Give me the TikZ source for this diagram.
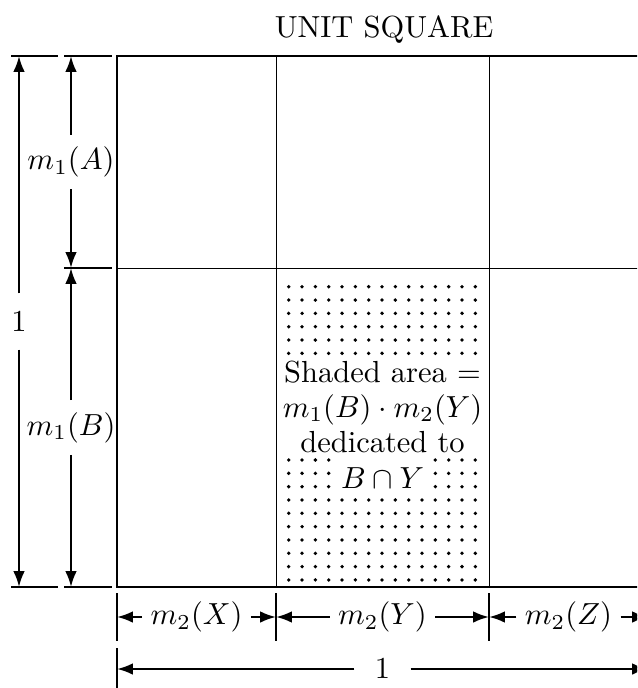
\documentclass[tikz,border=0pt]{standalone}
\usetikzlibrary{arrows.meta}
\begin{document}
\begin{tikzpicture}[x=0.328pt,y=-0.328pt,
  thickln/.style={line width=0.85pt},
  thinln/.style={line width=0.3pt},
  dimarrow/.style={line width=0.75pt,-{Latex[length=5.2pt,width=3.8pt]}},
  vlab/.style={inner sep=0pt,minimum height=17.5pt},
  hlab/.style={inner xsep=2.6pt,inner ysep=0pt},
  txt/.style={anchor=base,inner sep=0pt}]
\useasboundingbox (0,0) rectangle (637,688);
\clip (0,0) rectangle (637,688);

% unit square
\draw[thinln] (276,56) -- (276,587) (489,56) -- (489,587) (117,268) -- (648,268);
\draw[thickln] (648,56) -- (117,56) -- (117,587) -- (648,587);

% dotted shading
\foreach \i in {0,...,14}
  \foreach \j in {0,...,22}
    \fill (288.7+13.33*\i, 286.7+13.33*\j) circle (0.62pt);
\fill[white] (285,358) rectangle (479,455);
\fill[white] (335,455) rectangle (429,493);
\node[txt] (s1) at (382.5,382) {Shaded area $=$};
\node[txt] (s2) at (382.5,417) {$m_1(B)\cdot m_2(Y)$};
\node[txt] (s3) at (382.5,452.5) {dedicated to};
\node[txt] (s4) at (382.5,488) {$B\cap Y$};

% title
\node[txt] (title) at (384,38) {UNIT SQUARE};

% extension lines
\draw[thickln] (11,56) -- (58,56) (64,56) -- (112,56) (64,268) -- (112,268)
  (11,587) -- (58,587) (64,587) -- (112,587);
\draw[thickln] (117,593) -- (117,641) (276,593) -- (276,641) (489,593) -- (489,641)
  (117,648) -- (117,688);

% end points
\coordinate (oT) at (19,56);
\coordinate (oB) at (19,587);
\coordinate (aT) at (71,56);
\coordinate (aB) at (71,268);
\coordinate (bT) at (71,268);
\coordinate (bB) at (71,587);
\coordinate (x0) at (117,617);
\coordinate (x1) at (276,617);
\coordinate (x2) at (489,617);
\coordinate (x3) at (648,617);
\coordinate (u0) at (117,669);
\coordinate (u1) at (648,669);

% vertical dimensions
\node[vlab,minimum height=18pt] (one) at (19,321.5) {$1$};
\draw[dimarrow] (one.north) -- (oT);
\draw[dimarrow] (one.south) -- (oB);
\node[vlab] (mA) at (71,162) {$m_1(A)$};
\draw[dimarrow] (mA.north) -- (aT);
\draw[dimarrow] (mA.south) -- (aB);
\node[vlab] (mB) at (71,427.5) {$m_1(B)$};
\draw[dimarrow] (mB.north) -- (bT);
\draw[dimarrow] (mB.south) -- (bB);

% horizontal dimensions
\node[hlab] (mX) at (196.5,617) {$m_2(X)$};
\draw[dimarrow] (mX.west) -- (x0);
\draw[dimarrow] (mX.east) -- (x1);
\node[hlab] (mY) at (382.5,617) {$m_2(Y)$};
\draw[dimarrow] (mY.west) -- (x1);
\draw[dimarrow] (mY.east) -- (x2);
\node[hlab] (mZ) at (568.5,617) {$m_2(Z)$};
\draw[dimarrow] (mZ.west) -- (x2);
\draw[dimarrow] (mZ.east) -- (x3);
\node[hlab,inner xsep=6.5pt] (oneh) at (382.5,669) {$1$};
\draw[dimarrow] (oneh.west) -- (u0);
\draw[dimarrow] (oneh.east) -- (u1);
\end{tikzpicture}
\end{document}
